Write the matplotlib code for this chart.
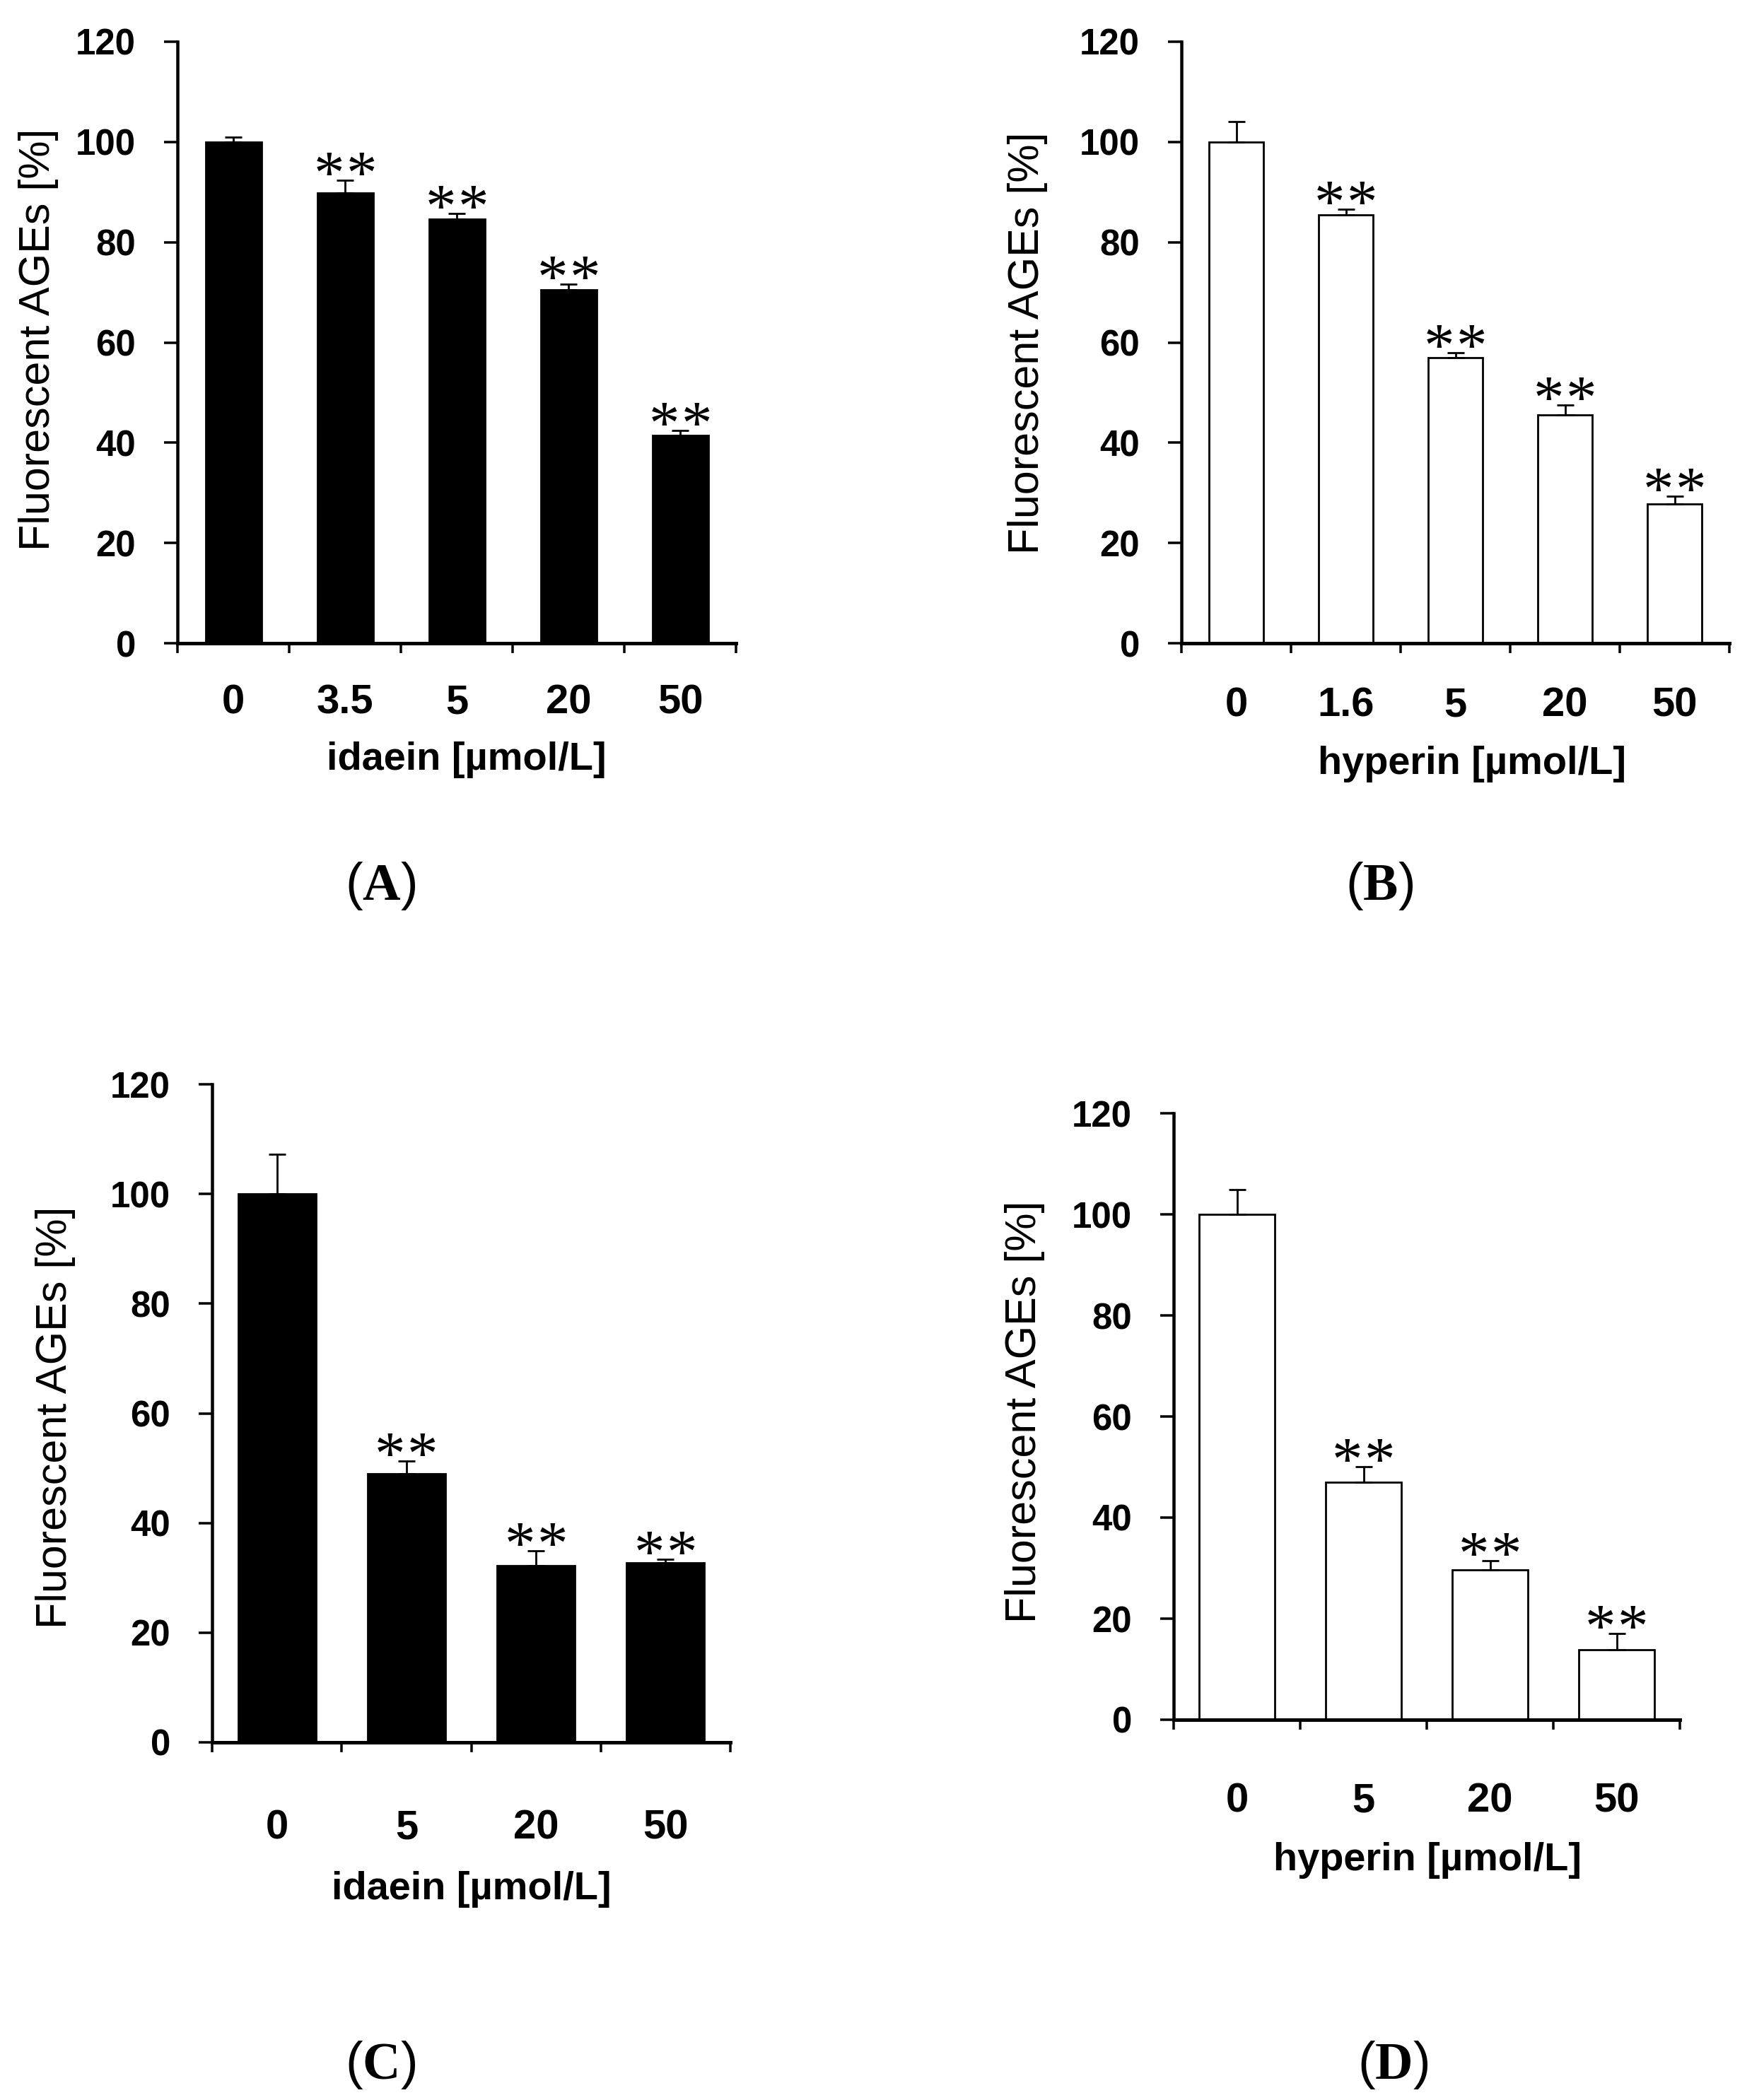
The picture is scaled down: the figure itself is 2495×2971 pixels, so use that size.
import matplotlib
matplotlib.use("Agg")
import matplotlib.pyplot as plt
import numpy as np

plt.rcParams['font.family'] = ['Liberation Sans', 'DejaVu Sans']
plt.rcParams['mathtext.fontset'] = 'custom'
plt.rcParams['mathtext.rm'] = 'Liberation Serif'
plt.rcParams['mathtext.bf'] = 'Liberation Serif:bold'

# ---------------- data ----------------
A_labels = ['0', '3.5', '5', '20', '50']
A_vals = [100, 89.8, 84.6, 70.5, 41.4]
A_err = [1.0, 2.6, 1.2, 1.2, 1.0]

B_labels = ['0', '1.6', '5', '20', '50']
B_vals = [100, 85.5, 56.9, 45.5, 27.8]
B_err = [4.1, 1.1, 1.1, 2.0, 1.5]

C_labels = ['0', '5', '20', '50']
C_vals = [100, 49.0, 32.2, 32.8]
C_err = [7.3, 2.3, 2.7, 0.6]

D_labels = ['0', '5', '20', '50']
D_vals = [100, 47.0, 29.7, 13.8]
D_err = [4.9, 3.1, 1.8, 3.3]

y_ticks = [0, 20, 40, 60, 80, 100, 120]
y_label = 'Fluorescent AGEs [%]'
x_label_idaein = 'idaein [µmol/L]'
x_label_hyperin = 'hyperin [µmol/L]'
star = '*'

W, H = 2495, 2971
DPI = 100
fig = plt.figure(figsize=(W / DPI, H / DPI), dpi=DPI)
fig.patch.set_facecolor('white')

def px(v):
    return v * 72.0 / DPI

panels = [
    # labels, vals, err, color, bar width, xlabel, box(left,right,top,bottom),
    # xtick pad, ylabel pos, xlabel pos, tag, tag pos
    (A_labels, A_vals, A_err, 'black', 0.5, x_label_idaein, (251, 1041, 59, 910), 57,
     (55, 480), (660, 1075), 'A', (538, 1253)),
    (B_labels, B_vals, B_err, 'white', 0.5, x_label_hyperin, (1671, 2446, 59, 910), 62,
     (1454, 485), (2082, 1081), 'B', (1951, 1253)),
    (C_labels, C_vals, C_err, 'black', 0.6, x_label_idaein, (300, 1033, 1534, 2465), 94,
     (79, 2005), (667, 2673), 'C', (538, 2921)),
    (D_labels, D_vals, D_err, 'white', 0.6, x_label_hyperin, (1660, 2376, 1575, 2433), 88,
     (1449, 1997), (2019, 2632), 'D', (1970, 2921)),
]

for labels, vals, err, color, bw, xlab, box, xpad, ylpos, xlpos, tag, tagpos in panels:
    l, r, t, b = box
    ax = fig.add_axes([l / W, 1 - b / H, (r - l) / W, (b - t) / H])
    n = len(labels)
    x = np.arange(n)
    lower = [0] * n
    ax.bar(x, vals, width=bw, color=color, edgecolor='black', linewidth=px(2.8), zorder=2)
    ax.errorbar(x, vals, yerr=[lower, err], fmt='none', ecolor='black',
                elinewidth=px(2.8), capsize=px(12), capthick=px(2.8), zorder=3)
    for i in range(1, n):
        for dx in (-23, 23):
            ax.annotate(star, xy=(x[i], vals[i] + err[i]), xytext=(px(dx), px(-18)),
                        textcoords='offset points', ha='center', va='baseline',
                        fontsize=px(87), family='Liberation Serif', color='black')
    ax.set_xlim(-0.5, n - 0.5)
    ax.set_ylim(0, 120)
    for s in ['top', 'right']:
        ax.spines[s].set_visible(False)
    ax.spines['left'].set_linewidth(px(4.5))
    ax.spines['bottom'].set_linewidth(px(5))
    ax.set_yticks(y_ticks)
    ax.set_yticklabels([str(v) for v in y_ticks], fontsize=px(51), fontweight='bold')
    ax.tick_params(axis='y', direction='out', length=px(19), width=px(3.5), pad=px(40))
    ax.set_xticks(np.arange(n + 1) - 0.5)
    ax.set_xticklabels([''] * (n + 1))
    ax.tick_params(axis='x', which='major', direction='out', length=px(14), width=px(3.5))
    ax.set_xticks(x, minor=True)
    ax.set_xticklabels(labels, minor=True, fontsize=px(58), fontweight='bold')
    ax.tick_params(axis='x', which='minor', length=0, pad=px(xpad))
    ax.set_ylabel(y_label, fontsize=px(61), va='center')
    ax.yaxis.set_label_coords(ylpos[0] / W, 1 - ylpos[1] / H, transform=fig.transFigure)
    ax.set_xlabel(xlab, fontsize=px(56), fontweight='bold', va='center')
    ax.xaxis.set_label_coords(xlpos[0] / W, 1 - xlpos[1] / H, transform=fig.transFigure)
    fig.text(tagpos[0] / W, 1 - tagpos[1] / H, r'($\mathbf{' + tag + r'}$)',
             fontsize=px(74), ha='center', va='center')

fig.savefig('out.png', dpi=DPI)
